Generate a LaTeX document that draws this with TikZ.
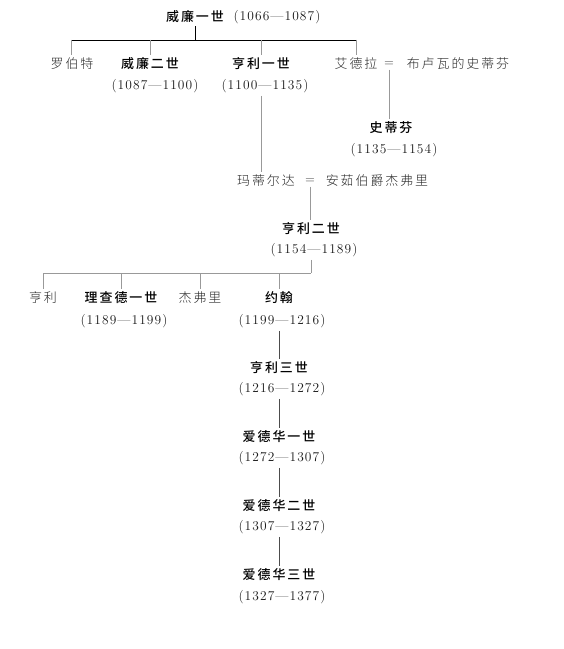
\documentclass[tikz,border=0pt]{standalone}
\usepackage{fontspec}
\newfontfamily\cjk{Noto Sans CJK SC Light}[LetterSpace=15, BoldFont={Noto Sans CJK SC Medium}]
\newfontfamily\datefont{Latin Modern Roman}[LetterSpace=8]
\tikzset{
  bname/.style={inner sep=3bp, font=\cjk\bfseries\fontsize{13}{15}\selectfont, text=black},
  rname/.style={inner sep=3bp, font=\cjk\fontsize{13}{15}\selectfont, text=black!85},
  date/.style={inner sep=3bp, font=\datefont\fontsize{13.5}{15}\selectfont, text=black!90},
  eqs/.style={inner sep=3bp, font=\datefont\fontsize{13}{15}\selectfont, text=black!80},
  mainline/.style={draw=black, line width=0.8bp},
  lightline/.style={draw=black!40, line width=0.7bp},
  chainline/.style={draw=black!70, line width=0.7bp}
}
\begin{document}
\begin{tikzpicture}[x=1bp,y=-1bp]
\useasboundingbox (0,0) rectangle (564,649);
% generation 1
\node[bname] (w1) at (195,17) {威廉一世};
\node[date] (w1d) at (277,17) {(1066—1087)};
\coordinate (b1L) at (71,40);
\coordinate (b1R) at (356,40);
% generation 2
\node[rname] (robert) at (72,64) {罗伯特};
\node[bname] (w2) at (150,64) {威廉二世};
\node[date] (w2d) at (155,86) {(1087—1100)};
\node[bname] (h1) at (261,64) {亨利一世};
\node[date] (h1d) at (265,86) {(1100—1135)};
\node[rname] (adela) at (356,64) {艾德拉};
\node[eqs] (eq1) at (389,64) {=};
\node[rname] (blois) at (458,64) {布卢瓦的史蒂芬};
% stephen
\node[bname] (stephen) at (391,128) {史蒂芬};
\node[date] (stephend) at (394,150) {(1135—1154)};
% matilda
\node[rname] (matilda) at (266,181) {玛蒂尔达};
\node[eqs] (eq2) at (310,181) {=};
\node[rname] (anjou) at (377,181) {安茹伯爵杰弗里};
% henry II
\node[bname] (h2) at (311,229) {亨利二世};
\node[date] (h2d) at (314,250) {(1154—1189)};
\coordinate (b2L) at (43,273);
% generation of henry II's sons
\node[rname] (henry) at (43,298) {亨利};
\node[bname] (richard) at (121,298) {理查德一世};
\node[date] (richardd) at (124,321) {(1189—1199)};
\node[rname] (geoffrey) at (200,298) {杰弗里};
\node[bname] (john) at (279,298) {约翰};
\node[date] (johnd) at (282,321) {(1199—1216)};
% chain
\node[bname] (h3) at (279,368) {亨利三世};
\node[date] (h3d) at (282,389) {(1216—1272)};
\node[bname] (e1) at (279,437) {爱德华一世};
\node[date] (e1d) at (282,458) {(1272—1307)};
\node[bname] (e2) at (279,506) {爱德华二世};
\node[date] (e2d) at (282,527) {(1307—1327)};
\node[bname] (e3) at (279,575) {爱德华三世};
\node[date] (e3d) at (282,597) {(1327—1377)};
% connectors: generation 1 -> 2
\draw[mainline] (w1.south) -- (w1.south |- b1L);
\draw[mainline] (b1L) -- (b1R);
\draw[lightline] (b1L) -- (b1L |- robert.north);
\draw[lightline] (w2.north |- b1L) -- (w2.north);
\draw[lightline] (h1.north |- b1L) -- (h1.north);
\draw[lightline] (b1R) -- (b1R |- adela.north);
% stephen
\draw[lightline] (eq1.south) -- (eq1.south |- stephen.north);
% matilda
\draw[lightline] (h1.south |- h1d.south) -- (h1.south |- matilda.north);
\draw[lightline] (eq2.south) -- (eq2.south |- h2.north);
% henry II -> sons
\coordinate (b2R) at (h2.south |- b2L);
\draw[lightline] (h2.south |- h2d.south) -- (b2R);
\draw[lightline] (b2L) -- (b2R);
\draw[lightline] (b2L) -- (b2L |- henry.north);
\draw[lightline] (richard.north |- b2L) -- (richard.north);
\draw[lightline] (geoffrey.north |- b2L) -- (geoffrey.north);
\draw[lightline] (john.north |- b2L) -- (john.north);
% chain
\draw[chainline] (john.south |- johnd.south) -- (h3.north);
\draw[chainline] (h3.south |- h3d.south) -- (e1.north);
\draw[chainline] (e1.south |- e1d.south) -- (e2.north);
\draw[chainline] (e2.south |- e2d.south) -- (e3.north);
\end{tikzpicture}
\end{document}
